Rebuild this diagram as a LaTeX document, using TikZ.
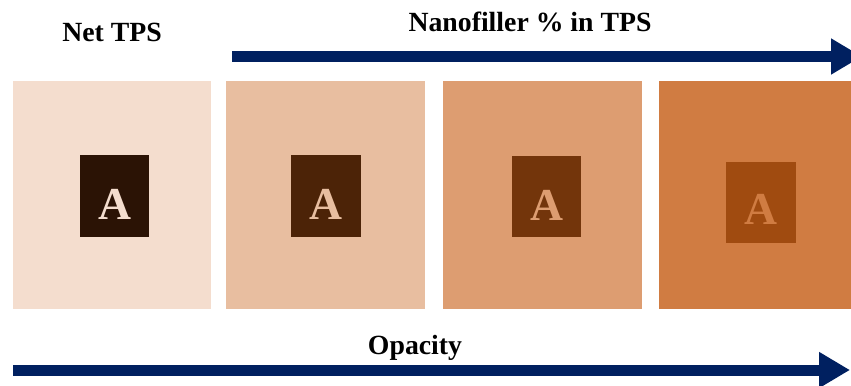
\documentclass[tikz,border=0pt]{standalone}
\usepackage{fontspec}
\setmainfont{Liberation Serif}
\usepackage{tikz}
\usetikzlibrary{arrows.meta}

\definecolor{navy}{HTML}{002060}
\definecolor{tpsA}{HTML}{F4DDCE}
\definecolor{tpsB}{HTML}{E8BEA0}
\definecolor{tpsC}{HTML}{DD9D71}
\definecolor{tpsD}{HTML}{D07C42}
\definecolor{boxA}{HTML}{2B1305}
\definecolor{boxB}{HTML}{4C2307}
\definecolor{boxC}{HTML}{73350B}
\definecolor{boxD}{HTML}{A04B10}

\tikzset{
    heading/.style={font=\fontsize{15.8}{18}\selectfont\bfseries, text=black, inner sep=0pt},
    letter/.style={font=\fontsize{26}{28}\selectfont\bfseries, inner sep=0pt},
    bigarrow/.style={draw=navy, line width=0.22cm, -{Triangle[length=0.62cm,width=0.68cm]}}
}

\begin{document}
\begin{tikzpicture}[x=0.02cm, y=-0.02cm]
    \useasboundingbox (0,0) rectangle (851,385);
    % panels
    \fill[tpsA] (13,81) rectangle (211,309);
    \fill[tpsB] (226,81) rectangle (425,309);
    \fill[tpsC] (443,81) rectangle (642,309);
    \fill[tpsD] (659,81) rectangle (851,309);
    % dark boxes
    \fill[boxA] (80,155) rectangle (149,237);
    \fill[boxB] (291,155) rectangle (361,237);
    \fill[boxC] (512,156) rectangle (581,237);
    \fill[boxD] (726,162) rectangle (796,243);
    % letters
    \node[letter, text=tpsA] (la) at (114.5,204) {A};
    \node[letter, text=tpsB] (lb) at (326,204) {A};
    \node[letter, text=tpsC] (lc) at (546.5,205) {A};
    \node[letter, text=tpsD] (ld) at (761,209) {A};
    % titles
    \node[heading] (net) at (112,32) {Net TPS};
    \node[heading] (nano) at (530,22) {Nanofiller \% in TPS};
    \node[heading] (opac) at (415,348) {Opacity};
    % arrows
    \coordinate (topstart) at (232,56.5);
    \coordinate (topend) at (862,56.5);
    \coordinate (botstart) at (13,370);
    \coordinate (botend) at (850,370);
    \draw[bigarrow] (topstart) -- (topend);
    \draw[bigarrow] (botstart) -- (botend);
\end{tikzpicture}
\end{document}
